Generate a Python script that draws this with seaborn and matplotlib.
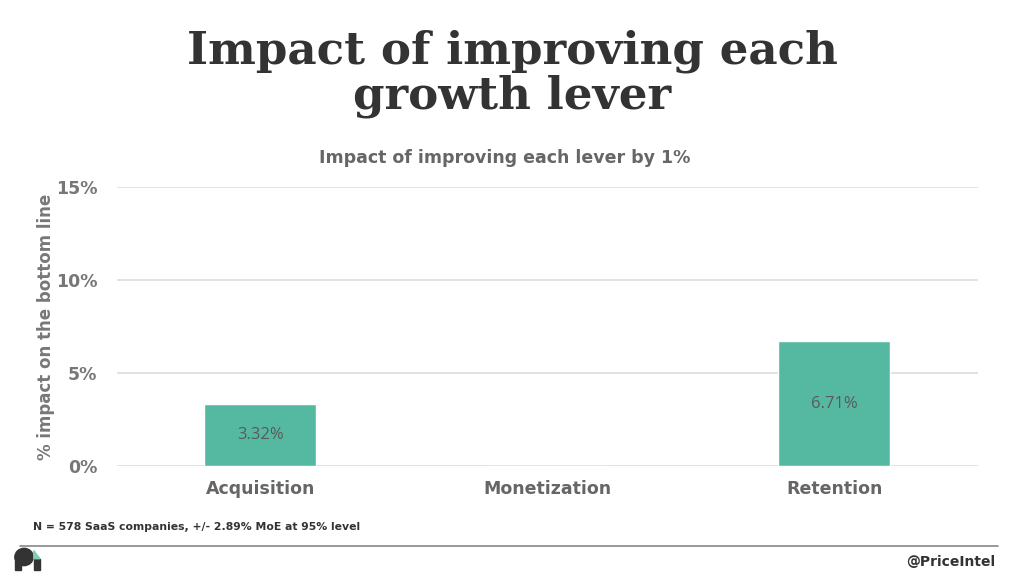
import pandas as pd
import seaborn as sns
import matplotlib.pyplot as plt
from matplotlib.patches import Ellipse, Rectangle, Polygon

# chart data
levers = ["Acquisition", "Monetization", "Retention"]
impact = [3.32, 0.0, 6.71]
y_ticks = [0, 5, 10, 15]
y_tick_labels = ["0%", "5%", "10%", "15%"]

df = pd.DataFrame({"lever": levers, "impact": impact})

sns.set_theme(style="white")
plt.rcParams["font.family"] = ["DejaVu Sans"]

fig = plt.figure(figsize=(10.24, 5.76), dpi=100)
ax = fig.add_axes([0.114, 0.191, 0.841, 0.484])

sns.barplot(data=df, x="lever", y="impact", color="#55b9a1", width=0.39,
            saturation=1, ax=ax, zorder=3)

# value labels in the middle of the bars
for i, v in enumerate(impact):
    if v > 0:
        ax.text(i, v / 2, f"{v:.2f}%", ha="center", va="center",
                fontsize=12, color="#5a5a5a", zorder=4,
                family=["Open Sans", "DejaVu Sans"])

ax.set_ylim(0, 15)
ax.set_xlim(-0.5, 2.5)
ax.set_yticks(y_ticks)
ax.set_yticklabels(y_tick_labels, fontsize=12.5, fontweight="bold", color="#777777")
ax.tick_params(axis="x", labelsize=12.5, labelcolor="#666666", pad=10, length=0)
ax.tick_params(axis="y", pad=14, length=0)
for lab in ax.get_xticklabels():
    lab.set_fontweight("bold")
ax.set_xlabel("")
ax.set_ylabel("% impact on the bottom line", fontsize=12, fontweight="bold",
              color="#777777")
ax.yaxis.set_label_coords(-0.072, 0.5)
ax.yaxis.grid(True, color="#dddddd", linewidth=1.2, zorder=0)
sns.despine(ax=ax, left=True, bottom=True, top=True, right=True)

fig.text(0.493, 0.725, "Impact of improving each lever by 1%", fontsize=12.5,
         fontweight="bold", color="#666666", ha="center", va="center")

# big title
fig.text(0.5, 0.872, "Impact of improving each\ngrowth lever", ha="center",
         va="center", fontsize=32.5, fontweight="bold", color="#333333",
         linespacing=1.05, family="DejaVu Serif")

# footnote, rule and branding
fig.text(0.032, 0.085, "N = 578 SaaS companies, +/- 2.89% MoE at 95% level",
         fontsize=7.8, fontweight="bold", color="#333333", va="center")
fig.add_artist(plt.Line2D([0.02, 0.975], [0.052, 0.052], color="#888888",
                          linewidth=1.2, transform=fig.transFigure))
fig.text(0.972, 0.024, "@PriceIntel", ha="right", va="center", fontsize=10,
         fontweight="bold", color="#333333")

# small logo mark
fig.add_artist(Ellipse((0.0235, 0.033), 0.018, 0.03, color="#333333",
                       transform=fig.transFigure))
fig.add_artist(Rectangle((0.0145, 0.01), 0.006, 0.024, color="#333333",
                         transform=fig.transFigure))
fig.add_artist(Rectangle((0.033, 0.01), 0.006, 0.02, color="#333333",
                         transform=fig.transFigure))
fig.add_artist(Polygon([(0.033, 0.030), (0.039, 0.030), (0.033, 0.044)],
                       color="#7fcdb5", transform=fig.transFigure))

fig.savefig("out.png", dpi=100)
